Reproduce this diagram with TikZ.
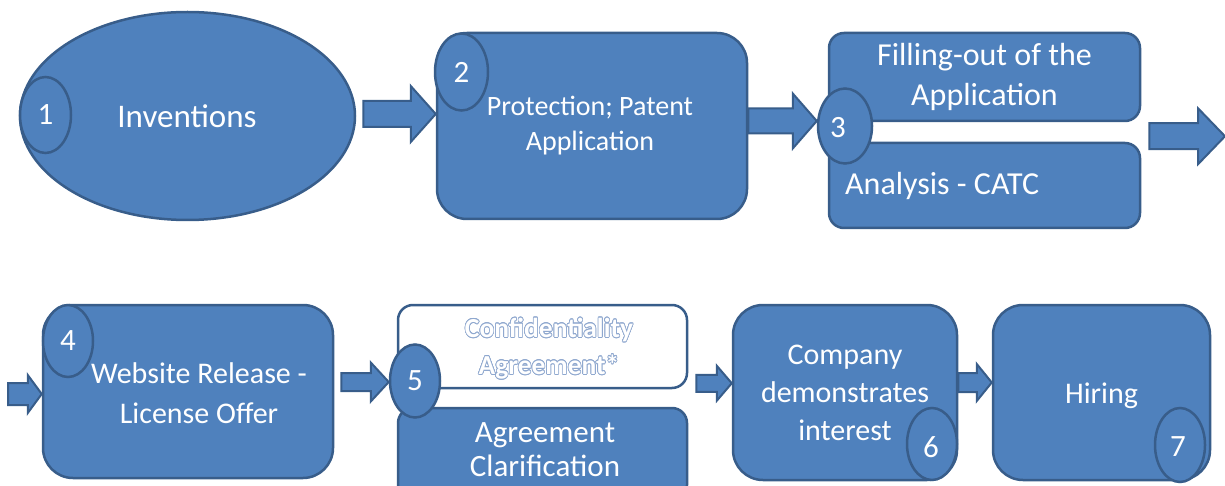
\documentclass[tikz,border=0pt]{standalone}
\usepackage{fontspec}
\setmainfont{Carlito}
\usepackage{contour}
\usetikzlibrary{shapes.geometric,calc}
\definecolor{boxblue}{HTML}{4F81BD}
\definecolor{boxline}{HTML}{385D8A}
\definecolor{outl}{HTML}{8FA8CF}
\contourlength{0.7pt}
\newcommand\fsz[2]{\fontsize{#1}{#2}\selectfont}
% #1 start coordinate, #2 node/coordinate giving tip x, #3 shaft half width, #4 head half width, #5 head length
\newcommand\blockarrow[5]{%
  \draw[blockarr] ($(#1)+(0,#3)$) -- ($(#1 -| #2)+(-#5,#3)$) -- ($(#1 -| #2)+(-#5,#4)$)
    -- (#1 -| #2) -- ($(#1 -| #2)+(-#5,-#4)$) -- ($(#1 -| #2)+(-#5,-#3)$) -- ($(#1)+(0,-#3)$) -- cycle;}
\tikzset{
  stepbox/.style={draw=boxline, fill=boxblue, line width=2.5pt, rounded corners=#1,
    inner sep=0pt, text=white, align=center},
  stepbox/.default=30pt,
  whitebox/.style={stepbox=15pt, fill=white},
  numcirc/.style={ellipse, draw=boxline, fill=boxblue, line width=2.5pt, inner sep=0pt,
    text=white, font=\fsz{31}{36}},
  blockarr/.style={draw=boxline, fill=boxblue, line width=2pt, line join=miter},
  lbl/.style={text=white, align=center, inner sep=0pt},
}
\begin{document}
\begin{tikzpicture}[x=1pt,y=-1pt]
\useasboundingbox (0,0) rectangle (1225,486);
\clip (0,0) rectangle (1225,486);
% row 1
\node[ellipse, draw=boxline, fill=boxblue, line width=2.5pt, minimum width=335pt, minimum height=208pt,
  inner sep=0pt] (e1) at (187.5,116) {};
\node[lbl, font=\fsz{33}{40}] (t1) at (187,116) {Inventions};
\node[stepbox, minimum width=310pt, minimum height=186pt] (b2) at (592,126) {};
\node[lbl, font=\fsz{28}{35}] (t2) at (590,126) {Protection; Patent\\Application};
\node[stepbox=15pt, minimum width=311pt, minimum height=88pt, font=\fsz{32}{40}] (b3a) at (984.5,77)
  {Filling-out of the\\Application};
\node[stepbox=15pt, minimum width=311pt, minimum height=85pt] (b3b) at (984.5,185.5) {};
\node[lbl, anchor=west, font=\fsz{32}{40}] (t3b) at (845,186) {Analysis - CATC};
% row 2
\node[stepbox, minimum width=290pt, minimum height=173pt] (b4) at (188,391.5) {};
\node[lbl, font=\fsz{30}{40}] (t4) at (199,393) {Website Release -\\License Offer};
\node[whitebox, minimum width=289pt, minimum height=83pt] (b5a) at (542.5,346.5) {};
\node[lbl, font=\bfseries\fsz{27.5}{37}] (t5a) at (549,349)
  {\color{white}\contour{outl}{Confidentiality}\\\color{white}\contour{outl}{Agreement*}};
\node[stepbox=15pt, minimum width=289pt, minimum height=92pt] (b5b) at (542.5,454) {};
\node[lbl, font=\fsz{31}{34}] (t5b) at (545,450) {Agreement\\Clarification};
\node[stepbox, minimum width=224pt, minimum height=175pt, font=\fsz{30}{38}] (b6) at (845,392.5)
  {Company\\demonstrates\\interest};
\node[stepbox, minimum width=217pt, minimum height=175pt] (b7) at (1101.5,392.5) {};
\node[lbl, font=\fsz{30}{36}] (t7) at (1101.5,396) {Hiring};
% number circles
\node[numcirc, minimum width=51pt, minimum height=76pt] (c1) at (45.5,115) {1};
\node[numcirc, minimum width=53pt, minimum height=77pt] (c2) at (461.5,72) {2};
\node[numcirc, minimum width=54pt, minimum height=75pt] (c3) at (845,126) {};
\node[lbl, font=\fsz{31}{36}] (n3) at (838,128) {3};
\node[numcirc, minimum width=50pt, minimum height=72pt] (c4) at (68,341) {4};
\node[numcirc, minimum width=50pt, minimum height=73pt] (c5) at (415,381) {5};
\node[numcirc, minimum width=50pt, minimum height=72pt] (c6) at (932,444) {};
\node[lbl, font=\fsz{31}{36}] (n6) at (931,447) {6};
\node[numcirc, minimum width=50pt, minimum height=74pt] (c7) at (1180,445) {};
\node[lbl, font=\fsz{31}{36}] (n7) at (1178,447) {7};
% block arrows
\coordinate (a1s) at ($(e1.east)+(7,-2)$);
\blockarrow{a1s}{b2.west}{13}{28}{25}
\coordinate (a2s) at ($(b2.east)+(0,-5)$);
\blockarrow{a2s}{c3.west}{12.5}{27.5}{24}
\coordinate (a3s) at ($(b3a.south east)+(8,14)$);
\coordinate (rightedge) at (1225,135);
\blockarrow{a3s}{rightedge}{13}{28}{27}
\coordinate (a4s) at (8,394);
\blockarrow{a4s}{b4.west}{11}{19}{14}
\coordinate (a5s) at ($(b4.east)+(7,-9.5)$);
\blockarrow{a5s}{c5.west}{9}{19.5}{18}
\coordinate (a6s) at ($(b5a.south east)+(8,-6)$);
\blockarrow{a6s}{b6.west}{8.5}{17.5}{15}
\coordinate (a7s) at ($(b6.east)+(0,-10)$);
\blockarrow{a7s}{b7.west}{9.5}{18.5}{15}
\end{tikzpicture}
\end{document}
